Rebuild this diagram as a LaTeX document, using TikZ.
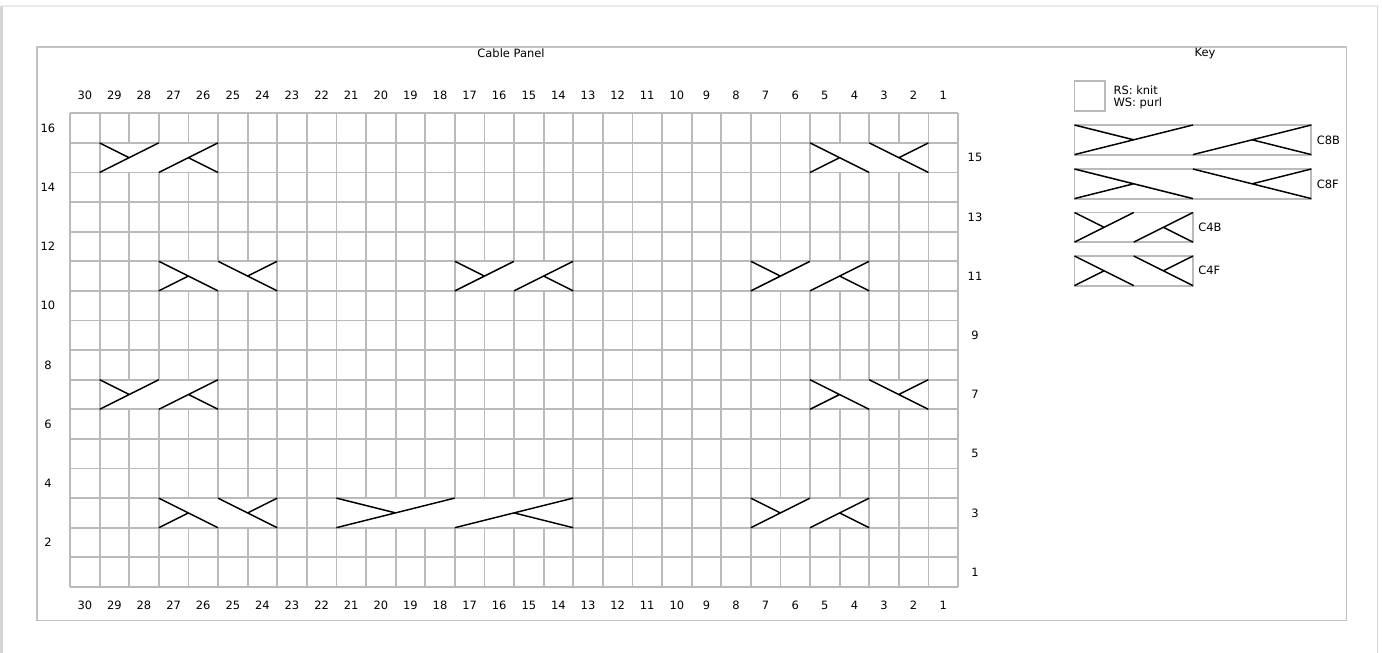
\documentclass[tikz,border=0pt]{standalone}
\usepackage{fontspec}
\setmainfont{DejaVu Sans}
\begin{document}
\begin{tikzpicture}[x=0.75pt,y=-0.75pt,
  gridline/.style={draw=black!27, line width=1.35pt},
  cable/.style={draw=black, line width=1.1pt},
  lbl/.style={font=\fontsize{8.6}{10}\selectfont, inner sep=0pt},
  frame/.style={draw=black!24, line width=0.9pt}]
\def\s{29.6}
\def\X{70}
\def\Y{113.3}
\tikzset{
 cfourb/.pic={\fill[white] (0.9,0.9) rectangle ({4*\s-0.9},{\s-0.9});
   \draw[gridline] (0,0) rectangle ({4*\s},\s);
   \draw[cable] (0,\s)--({2*\s},0) (0,0)--(\s,{.5*\s}) ({2*\s},\s)--({4*\s},0) ({4*\s},\s)--({3*\s},{.5*\s});},
 cfourf/.pic={\fill[white] (0.9,0.9) rectangle ({4*\s-0.9},{\s-0.9});
   \draw[gridline] (0,0) rectangle ({4*\s},\s);
   \draw[cable] (0,0)--({2*\s},\s) (0,\s)--(\s,{.5*\s}) ({2*\s},0)--({4*\s},\s) ({4*\s},0)--({3*\s},{.5*\s});},
 ceightb/.pic={\fill[white] (0.9,0.9) rectangle ({8*\s-0.9},{\s-0.9});
   \draw[gridline] (0,0) rectangle ({8*\s},\s);
   \draw[cable] (0,\s)--({4*\s},0) (0,0)--({2*\s},{.5*\s}) ({4*\s},\s)--({8*\s},0) ({8*\s},\s)--({6*\s},{.5*\s});},
 ceightf/.pic={\fill[white] (0.9,0.9) rectangle ({8*\s-0.9},{\s-0.9});
   \draw[gridline] (0,0) rectangle ({8*\s},\s);
   \draw[cable] (0,0)--({4*\s},\s) (0,\s)--({2*\s},{.5*\s}) ({4*\s},0)--({8*\s},\s) ({8*\s},0)--({6*\s},{.5*\s});}
}
\useasboundingbox (0,0) rectangle (1382,653);
\fill[white] (0,0) rectangle (1382,653);
% window edges
\draw[black!8, line width=0.8pt] (2,6) -- (1377.5,6);
\draw[black!16, line width=1.5pt] (1.5,6) -- (1.5,660);
\draw[black!16, line width=1pt] (1377.5,6) -- (1377.5,660);
% outer frame
\draw[frame] (37,47) rectangle (1346.7,620.5);
\node[lbl] (title) at (511,53) {Cable Panel};
\node[lbl] (keytitle) at (1205,53.5) {Key};
% grid
\foreach \i in {0,...,30} \draw[gridline] ({\X+\i*\s},\Y) -- ({\X+\i*\s},{\Y+16*\s});
\foreach \j in {0,...,16} \draw[gridline] (\X,{\Y+\j*\s}) -- ({\X+30*\s},{\Y+\j*\s});
% cables
\pic at ({\X+1*\s},{\Y+1*\s}) {cfourb};
\pic at ({\X+25*\s},{\Y+1*\s}) {cfourf};
\pic at ({\X+3*\s},{\Y+5*\s}) {cfourf};
\pic at ({\X+13*\s},{\Y+5*\s}) {cfourb};
\pic at ({\X+23*\s},{\Y+5*\s}) {cfourb};
\pic at ({\X+1*\s},{\Y+9*\s}) {cfourb};
\pic at ({\X+25*\s},{\Y+9*\s}) {cfourf};
\pic at ({\X+3*\s},{\Y+13*\s}) {cfourf};
\pic at ({\X+9*\s},{\Y+13*\s}) {ceightb};
\pic at ({\X+23*\s},{\Y+13*\s}) {cfourb};
% column labels
\foreach \c in {1,...,30} {
  \node[lbl] (ct\c) at ({\X+(30-\c+0.5)*\s},95) {\c};
  \node[lbl] (cb\c) at ({\X+(30-\c+0.5)*\s},605) {\c};
}
% row labels
\foreach \r in {2,4,...,16} \node[lbl] (rl\r) at (48,{\Y+(16-\r+0.5)*\s}) {\r};
\foreach \r in {1,3,...,15} \node[lbl] (rr\r) at (975,{\Y+(16-\r+0.5)*\s}) {\r};
% key
\draw[gridline] (1074.5,81) rectangle (1104.8,111);
\node[lbl, anchor=west] (rs) at (1113.3,90) {RS: knit};
\node[lbl, anchor=west] (ws) at (1113.3,103.5) {WS: purl};
\pic at (1074.5,125) {ceightb};
\node[lbl, anchor=west] (kc8b) at (1316.5,140) {C8B};
\pic at (1074.5,169) {ceightf};
\node[lbl, anchor=west] (kc8f) at (1316.5,184) {C8F};
\pic at (1074.5,212.5) {cfourb};
\node[lbl, anchor=west] (kc4b) at (1198,227) {C4B};
\pic at (1074.5,256) {cfourf};
\node[lbl, anchor=west] (kc4f) at (1198,270.5) {C4F};
\end{tikzpicture}
\end{document}
